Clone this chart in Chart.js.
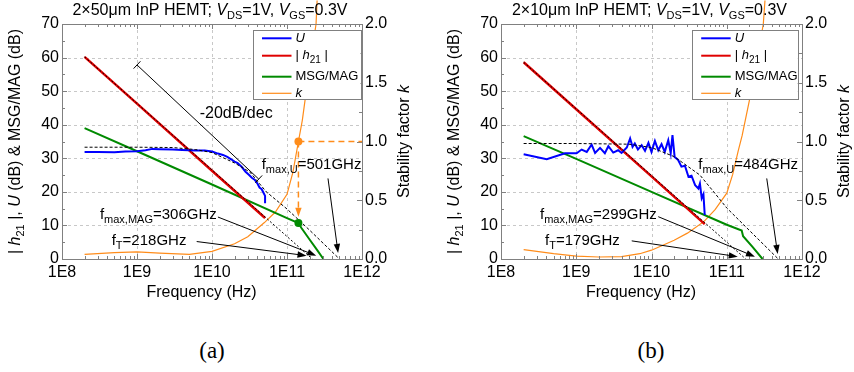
<!DOCTYPE html>
<html>
<head>
<meta charset="utf-8">
<script src="https://cdn.jsdelivr.net/npm/chart.js@4.4.1/dist/chart.umd.min.js"></script>
<style>
  html, body { margin: 0; padding: 0; background: #fff; }
  #wrap { position: relative; width: 854px; height: 372px; overflow: hidden; }
  .panel { position: absolute; top: 0; }
  .cap { position: absolute; top: 338px; width: 60px; margin-left: -30px; text-align: center;
         font: 23px "Liberation Serif", "DejaVu Serif", serif; color: #000; }
</style>
</head>
<body>
<div id="wrap">
  <canvas id="chartA" class="panel" width="427" height="300" style="left:0"></canvas>
  <canvas id="chartB" class="panel" width="427" height="300" style="left:427px"></canvas>
  <div class="cap" style="left:212px">(a)</div>
  <div class="cap" style="left:651px">(b)</div>
</div>
<script>
const FONT = '"Liberation Sans", Arial, sans-serif';
const BLUE = '#0000ff', RED = '#e00000', GREEN = '#008a00', ORANGE = '#ff8c1a';

// shared axes
const dbTicks = [0, 10, 20, 30, 40, 50, 60, 70];
const kTicks = [0, 0.5, 1, 1.5, 2];
const kTickLabels = ['0.0', '0.5', '1.0', '1.5', '2.0'];
const freqTicks = [1e8, 1e9, 1e10, 1e11, 1e12];
const freqTickLabels = ['1E8', '1E9', '1E10', '1E11', '1E12'];

// ---- panel (a): 2x50um device ----
const fTA = 218e9, fMaxMagA = 306e9, fMaxUA = 501e9;
const uFreqA = [2e8, 3e8, 5e8, 7e8, 1e9, 1.3e9, 1.6e9, 2e9, 3e9, 4e9, 6e9, 8e9, 1e10, 1.2e10, 1.4e10, 1.6e10,
                1.8e10, 2e10, 2.2e10, 2.5e10, 2.8e10, 3.1e10, 3.4e10, 3.7e10, 4e10, 4.3e10, 4.6e10, 4.9e10, 5.1e10, 5.1e10];
const uA = [31.9, 31.9, 31.8, 32.0, 32.1, 32.4, 32.8, 32.7, 32.6, 32.5, 32.3, 32.3, 32.0, 31.4, 31.0, 30.4,
            29.7, 29.0, 28.6, 27.4, 26.0, 25.1, 24.2, 23.6, 22.6, 21.3, 20.8, 19.6, 18.8, 16.6];
const h21FreqA = [2e8, 1e9, 1e10, 5.1e10];
const h21A = [60.2, 46.3, 26.3, 12.2];
const gainFreqA = [2e8, 1e9, 1e10, 1e11, 1.42e11, 1.55e11, 2e11, 2.5e11, fMaxMagA];
const gainA = [39.0, 32.1, 22.2, 12.2, 10.7, 9.3, 5.8, 2.8, 0];
const kFreqA = [2e8, 5e8, 1e9, 2e9, 5e9, 1e10, 2e10, 3e10, 5e10, 7e10, 1e11, 1.2e11, 1.42e11, 1.6e11, 1.8e11, 2.1e11, 2.44e11, 2.52e11];
const kA = [0.04, 0.055, 0.06, 0.05, 0.04, 0.065, 0.13, 0.19, 0.31, 0.40, 0.55, 0.74, 1.0, 1.18, 1.42, 1.72, 2.0, 2.2];
const h21FitFreqA = [2e8, fTA];
const h21FitA = [60.2, 0];
const uFitFreqA = [2e8, 1e9, 3e9, 6e9, 1e10, 2e10, 3.2e10, 5.3e10, 1e11, 2e11, fMaxUA];
const uFitA = [33.3, 33.3, 33.2, 32.6, 31.7, 28.6, 25.9, 20.0, 14.9, 8.6, 0];
const slopeFreqA = [1e9, 4.2e10];
const slopeA = [57.8, 23.8];
const markFreqA = 1.42e11, markKA = 1.0, markGainA = 10.7;

// ---- panel (b): 2x10um device ----
const fTB = 179e9, fMaxMagB = 299e9, fMaxUB = 484e9;
const uFreqB = [2e8, 4.05e8, 7.1e8, 1.01e9, 1.18e9, 1.38e9, 1.6e9, 1.78e9, 2.07e9, 2.4e9, 2.67e9, 3.1e9, 3.6e9, 4.0e9,
                4.7e9, 5.2e9, 5.6e9, 6.0e9, 6.6e9, 7.4e9, 8.2e9, 9.1e9, 1.0e10, 1.11e10, 1.23e10, 1.36e10, 1.5e10, 1.67e10,
                1.8e10, 1.9e10, 2.03e10, 2.26e10, 2.5e10, 2.78e10, 3.1e10, 3.4e10, 3.8e10, 4.2e10, 4.4e10, 4.65e10, 4.9e10, 5.1e10];
const uB = [31.2, 29.7, 31.5, 31.5, 32.6, 31.9, 34.1, 31.6, 33.1, 31.5, 33.6, 31.7, 32.4, 31.6,
            33.2, 35.9, 33.4, 34.4, 32.6, 33.9, 32.2, 34.6, 31.9, 35.2, 32.4, 34.2, 31.9, 35.4,
            31.5, 36.9, 30.4, 29.5, 27.5, 27.8, 24.5, 24.8, 22.0, 21.0, 22.5, 18.1, 19.3, 13.1];
const h21FreqB = [2e8, 1e9, 1e10, 5.1e10];
const h21B = [58.6, 44.6, 24.6, 10.4];
const gainFreqB = [2e8, 1e9, 1e10, 1e11, 1.58e11, 1.65e11, 2.2e11, fMaxMagB];
const gainB = [36.6, 29.8, 20.0, 10.2, 8.5, 6.8, 3.6, 0];
const kFreqB = [2e8, 5e8, 1e9, 2e9, 4e9, 7e9, 1e10, 2e10, 3e10, 5e10, 7e10, 1e11, 1.2e11, 1.42e11, 1.6e11, 2e11, 2.5e11, 3.06e11, 3.22e11];
const kB = [0.08, 0.045, 0.025, 0.017, 0.02, 0.045, 0.075, 0.16, 0.22, 0.32, 0.42, 0.56, 0.72, 0.92, 1.05, 1.35, 1.68, 2.0, 2.2];
const h21FitFreqB = [2e8, fTB];
const h21FitB = [58.6, 0];
const uFitFreqB = [2e8, 1e9, 5e9, 1e10, 2e10, 4.4e10, 7e10, 1e11, 2e11, fMaxUB];
const uFitB = [34.4, 34.4, 34.2, 33.2, 30.5, 25.0, 19.5, 15.2, 8.5, 0];

// text pieces: n = normal, i = italic, s = subscript
const legendRows = [
  { color: BLUE, width: 2, parts: [['U', 'i']] },
  { color: RED, width: 2, parts: [['| ', 'n'], ['h', 'i'], ['21', 's'], [' |', 'n']] },
  { color: GREEN, width: 2, parts: [['MSG/MAG', 'n']] },
  { color: ORANGE, width: 1.2, parts: [['k', 'i']] }
];
const yTitle = [['| ', 'n'], ['h', 'i'], ['21', 's'], [' |, ', 'n'], ['U', 'i'], [' (dB) & MSG/MAG (dB)', 'n']];
const y1Title = [['Stability factor ', 'n'], ['k', 'i']];

const panelA = {
  pad: { left: 62, right: 65, top: 24, bottom: 41 },
  title: [['2×50μm InP HEMT; ', 'n'], ['V', 'i'], ['DS', 's'], ['=1V, ', 'n'], ['V', 'i'], ['GS', 's'], ['=0.3V', 'n']],
  legend: { inset: 1.5, top: 6, w: 108, h: 69 },
  notes: [
    { parts: [['f', 'n'], ['max,U', 's'], ['=' + fMaxUA / 1e9 + 'GHz', 'n']], at: [4.6e10, 28.0], tail: [3.52e11, 24.0], tip: [4.8e11, 1.8] },
    { parts: [['f', 'n'], ['max,MAG', 's'], ['=' + fMaxMagA / 1e9 + 'GHz', 'n']], at: [3.2e8, 13.1], tail: [1.2e10, 12.5], tip: [2.45e11, 1.0] },
    { parts: [['f', 'n'], ['T', 's'], ['=' + fTA / 1e9 + 'GHz', 'n']], at: [4.6e8, 5.4], tail: [6.25e9, 5.2], tip: [1.82e11, 1.0] }
  ],
  slopeText: { text: '-20dB/dec', at: [2.1e10, 43.3] },
  guide: { f: markFreqA, k: markKA, toDb: 12.6 }
};
const panelB = {
  pad: { left: 74, right: 52, top: 24, bottom: 41 },
  title: [['2×10μm InP HEMT; ', 'n'], ['V', 'i'], ['DS', 's'], ['=1V, ', 'n'], ['V', 'i'], ['GS', 's'], ['=0.3V', 'n']],
  legend: { inset: 4.3, top: 6, w: 106, h: 69 },
  notes: [
    { parts: [['f', 'n'], ['max,U', 's'], ['=' + fMaxUB / 1e9 + 'GHz', 'n']], at: [4.19e10, 28.0], tail: [3.4e11, 24.0], tip: [4.75e11, 1.5] },
    { parts: [['f', 'n'], ['max,MAG', 's'], ['=' + fMaxMagB / 1e9 + 'GHz', 'n']], at: [3.3e8, 13.1], tail: [1.23e10, 12.6], tip: [2.37e11, 0.7] },
    { parts: [['f', 'n'], ['T', 's'], ['=' + fTB / 1e9 + 'GHz', 'n']], at: [3.85e8, 5.4], tail: [5.46e9, 5.4], tip: [1.4e11, 0.7] }
  ]
};

function drawRich(ctx, x, y, parts, size, align, subScale) {
  const sub = Math.round(size * (subScale || 0.68));
  const fontOf = s => (s === 'i' ? 'italic ' : '') + (s === 's' ? sub : size) + 'px ' + FONT;
  let w = 0;
  for (const [t, s] of parts) { ctx.font = fontOf(s); w += ctx.measureText(t).width; }
  let cx = align === 'center' ? x - w / 2 : (align === 'right' ? x - w : x);
  ctx.textAlign = 'left';
  ctx.textBaseline = 'middle';
  for (const [t, s] of parts) {
    ctx.font = fontOf(s);
    ctx.fillText(t, cx, s === 's' ? y + size * 0.33 : y);
    cx += ctx.measureText(t).width;
  }
  return cx;
}

function seg(ctx, x1, y1, x2, y2) {
  ctx.beginPath(); ctx.moveTo(x1, y1); ctx.lineTo(x2, y2); ctx.stroke();
}

function arrow(ctx, x1, y1, x2, y2, color) {
  const ang = Math.atan2(y2 - y1, x2 - x1), len = 9, hw = 3.2;
  ctx.strokeStyle = color; ctx.fillStyle = color;
  seg(ctx, x1, y1, x2 - Math.cos(ang) * len * 0.8, y2 - Math.sin(ang) * len * 0.8);
  ctx.beginPath();
  ctx.moveTo(x2, y2);
  ctx.lineTo(x2 - Math.cos(ang) * len - Math.sin(ang) * hw, y2 - Math.sin(ang) * len + Math.cos(ang) * hw);
  ctx.lineTo(x2 - Math.cos(ang) * len + Math.sin(ang) * hw, y2 - Math.sin(ang) * len - Math.cos(ang) * hw);
  ctx.closePath(); ctx.fill();
}

// grid, frame, ticks, labels and notes drawn around the plotted series
function decor(p) {
  return {
    id: 'decor',
    beforeDatasetsDraw(chart) {
      const { ctx, chartArea: a, scales: { x, y } } = chart;
      ctx.save();
      ctx.strokeStyle = '#c8c8c8'; ctx.lineWidth = 1; ctx.setLineDash([3, 3]);
      freqTicks.slice(1, -1).forEach(v => {
        const px = Math.round(x.getPixelForValue(v)) + 0.5;
        seg(ctx, px, a.top, px, a.bottom);
      });
      dbTicks.slice(1, -1).forEach(v => {
        const py = Math.round(y.getPixelForValue(v)) + 0.5;
        seg(ctx, a.left, py, a.right, py);
      });
      ctx.restore();
    },
    afterDatasetsDraw(chart) {
      const { ctx, chartArea: a, scales: { x, y, y1 } } = chart;
      ctx.save();
      // frame and inward ticks
      ctx.strokeStyle = '#808080'; ctx.lineWidth = 1;
      ctx.strokeRect(Math.round(a.left) + 0.5, Math.round(a.top) + 0.5, Math.round(a.right - a.left), Math.round(a.bottom - a.top));
      for (let v = 0; v <= 70; v += 5) {
        const py = Math.round(y.getPixelForValue(v)) + 0.5, l = v % 10 === 0 ? 5 : 3;
        seg(ctx, a.left, py, a.left + l, py);
      }
      for (let v = 0; v <= 2; v += 0.25) {
        const py = Math.round(y1.getPixelForValue(v)) + 0.5, l = v % 0.5 === 0 ? 5 : 3;
        seg(ctx, a.right - l, py, a.right, py);
      }
      for (let e = 8; e <= 12; e++) {
        for (let m = 1; m <= (e === 12 ? 1 : 9); m++) {
          const px = Math.round(x.getPixelForValue(m * Math.pow(10, e))) + 0.5, l = m === 1 ? 5 : 3;
          seg(ctx, px, a.bottom - l, px, a.bottom);
          seg(ctx, px, a.top, px, a.top + l);
        }
      }
      // tick labels
      ctx.fillStyle = '#000';
      ctx.font = '16px ' + FONT;
      ctx.textBaseline = 'middle';
      ctx.textAlign = 'right';
      dbTicks.forEach(v => ctx.fillText(String(v), a.left - 3, y.getPixelForValue(v)));
      ctx.textAlign = 'left';
      kTicks.forEach((v, i) => ctx.fillText(kTickLabels[i], a.right + 3, y1.getPixelForValue(v)));
      ctx.textAlign = 'center';
      freqTicks.forEach((v, i) => ctx.fillText(freqTickLabels[i], x.getPixelForValue(v), a.bottom + 14));
      // axis titles
      const midX = (a.left + a.right) / 2, midY = (a.top + a.bottom) / 2;
      ctx.fillText('Frequency (Hz)', midX - 10.5, a.bottom + 34);
      drawRich(ctx, midX - 2, 11, p.title, 16, 'center');
      ctx.save(); ctx.translate(a.left - 46.5, midY); ctx.rotate(-Math.PI / 2);
      drawRich(ctx, 0, 0, yTitle, 16, 'center'); ctx.restore();
      ctx.save(); ctx.translate(a.right + 43, midY); ctx.rotate(-Math.PI / 2);
      drawRich(ctx, 0, 0, y1Title, 16, 'center'); ctx.restore();
      // orange guide from k = 1 to the MSG/MAG break point
      if (p.guide) {
        const gx = x.getPixelForValue(p.guide.f), gy = y1.getPixelForValue(p.guide.k);
        ctx.strokeStyle = ORANGE; ctx.lineWidth = 1.5; ctx.setLineDash([6, 4]);
        seg(ctx, gx, gy, a.right, gy);
        const ty = y.getPixelForValue(p.guide.toDb);
        seg(ctx, gx, gy, gx, ty - 8);
        ctx.setLineDash([]); ctx.lineWidth = 1;
        arrow(ctx, gx, ty - 9, gx, ty, ORANGE);
      }
      // slope note
      if (p.slopeText) {
        ctx.fillStyle = '#000'; ctx.font = '16px ' + FONT; ctx.textAlign = 'center'; ctx.textBaseline = 'middle';
        ctx.fillText(p.slopeText.text, x.getPixelForValue(p.slopeText.at[0]), y.getPixelForValue(p.slopeText.at[1]));
      }
      // cut-off frequency notes with arrows
      ctx.lineWidth = 1;
      p.notes.forEach(n => {
        ctx.fillStyle = '#000';
        drawRich(ctx, x.getPixelForValue(n.at[0]), y.getPixelForValue(n.at[1]), n.parts, 15, 'left', 0.7);
        arrow(ctx, x.getPixelForValue(n.tail[0]), y.getPixelForValue(n.tail[1]),
              x.getPixelForValue(n.tip[0]), y.getPixelForValue(n.tip[1]), '#000');
      });
      // legend box
      const L = p.legend, lx = a.right - L.inset - L.w, ly = a.top + L.top;
      ctx.fillStyle = '#fff'; ctx.fillRect(lx, ly, L.w, L.h);
      ctx.strokeStyle = '#808080'; ctx.strokeRect(Math.round(lx) + 0.5, Math.round(ly) + 0.5, L.w, L.h);
      const rowY = [8.3, 25.7, 46.7, 63.3];
      legendRows.forEach((r, i) => {
        const ry = ly + rowY[i];
        ctx.strokeStyle = r.color; ctx.lineWidth = r.width;
        seg(ctx, lx + 9.5, ry, lx + 39, ry);
        ctx.fillStyle = '#000';
        drawRich(ctx, lx + 43, ry, r.parts, 13, 'left', 0.8);
      });
      ctx.restore();
    }
  };
}

const pts = (xs, ys) => xs.map((v, i) => ({ x: v, y: ys[i] }));
const lineSet = (xs, ys, color, width, order, extra) =>
  Object.assign({ data: pts(xs, ys), borderColor: color, backgroundColor: color, borderWidth: width,
                  yAxisID: 'y', fill: false, order: order }, extra || {});

function makeChart(id, p, sets) {
  return new Chart(document.getElementById(id), {
    type: 'line',
    data: { datasets: sets },
    options: {
      responsive: false,
      animation: false,
      devicePixelRatio: 1,
      layout: { padding: p.pad },
      elements: { point: { radius: 0, hoverRadius: 0 }, line: { tension: 0 } },
      plugins: { legend: { display: false }, tooltip: { enabled: false } },
      scales: {
        x: { type: 'logarithmic', min: 1e8, max: 1e12, display: false },
        y: { min: 0, max: 70, display: false },
        y1: { min: 0, max: 2, display: false, position: 'right' }
      }
    },
    plugins: [decor(p)]
  });
}

makeChart('chartA', panelA, [
  lineSet([markFreqA], [markKA], ORANGE, 0, 0, { yAxisID: 'y1', showLine: false, pointRadius: 4, pointBorderWidth: 0 }),
  lineSet([markFreqA], [markGainA], GREEN, 0, 0, { showLine: false, pointRadius: 4, pointBorderWidth: 0 }),
  lineSet(h21FitFreqA, h21FitA, '#000', 1, 1, { borderDash: [2, 2] }),
  lineSet(uFitFreqA, uFitA, '#000', 1, 1, { borderDash: [3, 2] }),
  lineSet(slopeFreqA, slopeA, '#000', 1, 1, { pointStyle: 'line', pointRadius: 5, pointRotation: 133, pointBorderWidth: 1 }),
  lineSet(uFreqA, uA, BLUE, 2, 2),
  lineSet(h21FreqA, h21A, RED, 2.5, 3),
  lineSet(gainFreqA, gainA, GREEN, 2, 4),
  lineSet(kFreqA, kA, ORANGE, 1.2, 5, { yAxisID: 'y1', clip: false })
]);

makeChart('chartB', panelB, [
  lineSet(h21FitFreqB, h21FitB, '#000', 1, 1, { borderDash: [2, 2] }),
  lineSet(uFitFreqB, uFitB, '#000', 1, 1, { borderDash: [3, 2] }),
  lineSet(uFreqB, uB, BLUE, 2, 2),
  lineSet(h21FreqB, h21B, RED, 2.5, 3),
  lineSet(gainFreqB, gainB, GREEN, 2, 4),
  lineSet(kFreqB, kB, ORANGE, 1.2, 5, { yAxisID: 'y1', clip: false })
]);
</script>
</body>
</html>
